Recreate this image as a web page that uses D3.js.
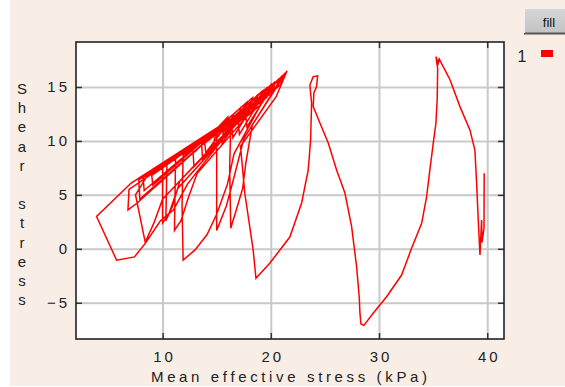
<!DOCTYPE html>
<html>
<head>
<meta charset="utf-8">
<script src="https://cdn.jsdelivr.net/npm/d3@7"></script>
<style>
  html, body { margin: 0; padding: 0; background: #ffffff; }
  svg { display: block; }
  text { font-family: "Liberation Sans", Arial, sans-serif; }
</style>
</head>
<body>
<svg id="chart" width="565" height="387"></svg>
<script>
// Cyclic stress path: mean effective stress p' (kPa) against shear stress q.
// Early cycles run back and forth inside the narrow band under the failure line.
const cyclicP = [13.0, 16.0, 15.8, 13.9, 14.0, 16.6, 16.4, 14.8, 14.7, 17.4, 17.2, 15.6, 15.5, 18.0,
  17.8, 16.4, 16.5, 18.6, 18.4, 17.0, 17.1, 19.2, 19.0, 17.7, 17.8, 19.8,
  17.2, 17.1, 9.0, 9.1, 17.8, 17.7, 8.2, 8.3, 18.3, 18.1, 7.1, 3.9, 5.75, 7.4,
  8.4, 9.8, 11.0, 12.3, 18.8, 18.6, 6.9, 6.8, 7.6, 19.2, 19.0, 7.8, 7.9, 19.6, 19.4, 8.6, 7.5,
  8.4, 9.2, 10.0, 20.0, 19.8, 10.0, 10.0, 10.6, 11.4, 20.4, 20.2, 10.4, 10.3, 10.9, 11.6, 20.8,
  20.5, 11.2, 11.1, 11.7, 12.4, 13.2, 21.1, 20.7, 11.9, 11.8, 11.9, 13.0, 14.1, 15.0, 16.0, 16.6,
  19.9, 19.6, 12.8, 12.9, 19.4, 19.1, 13.6, 13.7, 20.2, 19.9, 15.0, 15.0, 15.9, 16.7, 17.5, 21.3,
  20.9, 16.3, 16.2, 16.3, 16.9, 17.4, 17.7, 18.3, 21.5, 20.5, 17.2, 17.6, 18.37, 18.63];
const cyclicQ = [9.0, 12.2, 11.3, 9.8, 8.9, 12.4, 11.6, 10.3, 9.2, 12.9, 12.1, 10.8, 9.8, 13.3,
  12.5, 11.3, 10.3, 13.7, 12.9, 11.7, 10.6, 14.1, 13.3, 12.2, 11.3, 14.5,
  13.1, 12.5, 6.8, 5.9, 13.6, 12.9, 6.6, 5.4, 14.0, 13.2, 6.1, 3.0, -1.05, -0.75,
  0.5, 2.6, 3.6, 6.0, 14.3, 13.5, 5.5, 3.6, 4.2, 14.6, 13.8, 6.4, 4.6, 14.9, 14.1, 6.8, 5.0,
  0.6, 2.4, 4.6, 15.2, 14.4, 7.6, 2.4, 3.3, 5.6, 15.5, 14.7, 7.8, 2.6, 3.9, 6.3, 15.8,
  15.0, 8.4, 1.7, 2.6, 4.8, 7.0, 16.1, 15.2, 8.7, 4.0, -1.05, -0.1, 1.3, 3.2, 6.0, 8.8,
  14.9, 14.0, 9.3, 7.6, 14.5, 13.6, 9.8, 8.3, 15.2, 14.3, 10.9, 1.7, 4.0, 7.0, 10.2, 16.3,
  15.2, 11.5, 7.5, 1.9, 3.9, 5.6, 8.0, 11.5, 16.5, 14.1, 9.5, 5.15, -0.1, -2.74];

// Second large cycle
const loop2P = [19.92, 21.76, 22.85, 23.46, 23.68, 23.77, 23.61, 23.92, 24.33, 24.23, 23.98, 23.92,
  24.54, 25.31, 26.08, 26.85, 27.47, 27.93, 28.17, 28.24, 28.33, 28.6];
const loop2Q = [-1.32, 1.09, 4.25, 7.31, 10.09, 13.52, 15.18, 15.96, 16.02, 15.03, 14.45, 13.18,
  11.66, 9.81, 7.31, 5.17, 2.05, -1.66, -4.44, -5.96, -6.97, -7.1];

// Third large cycle and the end of the record
const loop3P = [29.46, 30.70, 32.09, 33.01, 33.94, 34.40, 34.70, 35.01, 35.26, 35.38, 35.42, 35.26,
  35.47, 35.56, 36.56, 37.48, 38.40, 38.86, 39.02, 39.17, 39.33, 39.48, 39.52, 39.70, 39.72];
const loop3Q = [-5.98, -4.44, -2.43, 0.05, 2.36, 4.83, 7.31, 9.78, 11.64, 13.95, 16.74, 17.81,
  17.2, 17.6, 15.67, 13.18, 11.02, 9.16, 6.07, 2.67, -0.57, 2.67, 0.6, 1.9, 7.0];

const xTicks = [10, 20, 30, 40];
const yTicks = [-5, 0, 5, 10, 15];
const xTitle = "Mean effective stress (kPa)";
const yTitle = "Shear stress";
const seriesName = "1";
const buttonLabel = "fill";

const W = 565, H = 387;
const box = { left: 76, top: 42, right: 504, bottom: 339 };

const svg = d3.select("#chart");

// panel background
svg.append("rect").attr("x", 10).attr("y", 0).attr("width", W - 10).attr("height", 386)
  .attr("fill", "#f9eee5");
svg.append("rect").attr("x", box.left).attr("y", box.top)
  .attr("width", box.right - box.left).attr("height", box.bottom - box.top).attr("fill", "#ffffff");

const x = d3.scaleLinear().domain([2.0, 41.55]).range([box.left, box.right]);
const y = d3.scaleLinear().domain([-8.36, 19.17]).range([box.bottom, box.top]);

// grid lines
const gridX = svg.append("g").attr("transform", `translate(0,${box.bottom})`)
  .call(d3.axisBottom(x).tickValues(xTicks).tickSize(-(box.bottom - box.top)).tickFormat(""));
const gridY = svg.append("g").attr("transform", `translate(${box.left},0)`)
  .call(d3.axisLeft(y).tickValues(yTicks).tickSize(-(box.right - box.left)).tickFormat(""));
[gridX, gridY].forEach(g => {
  g.select(".domain").remove();
  g.selectAll(".tick line").attr("stroke", "#c9c9c9").attr("stroke-width", 2);
});

// stress path
const pts = [];
[[cyclicP, cyclicQ], [loop2P, loop2Q], [loop3P, loop3Q]].forEach(([ps, qs]) => {
  ps.forEach((p, i) => pts.push([p, qs[i]]));
});
const line = d3.line().x(d => x(d[0])).y(d => y(d[1]));
svg.append("path").datum(pts).attr("d", line)
  .attr("fill", "none").attr("stroke", "#ff0000").attr("stroke-width", 1.5)
  .attr("stroke-linejoin", "miter");

// inward tick marks on all four sides, labels bottom and left
const tickLen = 6;
const axB = svg.append("g").attr("transform", `translate(0,${box.bottom})`)
  .call(d3.axisBottom(x).tickValues(xTicks).tickSize(-tickLen).tickPadding(12.5));
const axT = svg.append("g").attr("transform", `translate(0,${box.top})`)
  .call(d3.axisTop(x).tickValues(xTicks).tickSize(-tickLen).tickFormat(""));
const axL = svg.append("g").attr("transform", `translate(${box.left},0)`)
  .call(d3.axisLeft(y).tickValues(yTicks).tickSize(-tickLen).tickPadding(6));
const axR = svg.append("g").attr("transform", `translate(${box.right},0)`)
  .call(d3.axisRight(y).tickValues(yTicks).tickSize(-tickLen).tickFormat(""));
[axB, axT, axL, axR].forEach(g => {
  g.select(".domain").remove();
  g.selectAll(".tick line").attr("stroke", "#333333").attr("stroke-width", 1.5);
  g.selectAll(".tick text").attr("fill", "#222222")
    .style("font-size", "15px").style("letter-spacing", "3px");
});
axB.selectAll(".tick text").attr("dx", "1.5px");

// frame
svg.append("rect").attr("x", box.left).attr("y", box.top)
  .attr("width", box.right - box.left).attr("height", box.bottom - box.top)
  .attr("fill", "none").attr("stroke", "#222222").attr("stroke-width", 1.6);

// x title
svg.append("text").attr("x", 151).attr("y", 381.5)
  .attr("textLength", 276).attr("lengthAdjust", "spacing")
  .style("font-size", "15px").attr("fill", "#222222").text(xTitle);

// y title, one letter per row
const yChars = Array.from(yTitle);
svg.append("g").selectAll("text").data(yChars).join("text")
  .attr("x", 22).attr("y", (d, i) => 94 + i * 19.2)
  .attr("text-anchor", "middle").style("font-size", "15px").attr("fill", "#222222")
  .text(d => d);

// legend entry
svg.append("text").attr("x", 522).attr("y", 61.5).attr("text-anchor", "middle")
  .style("font-size", "16px").attr("fill", "#222222").text(seriesName);
svg.append("rect").attr("x", 541).attr("y", 50).attr("width", 12).attr("height", 7).attr("fill", "#ff0000");

// fill button
const defs = svg.append("defs");
const grad = defs.append("linearGradient").attr("id", "btn").attr("x1", 0).attr("y1", 0).attr("x2", 0).attr("y2", 1);
grad.append("stop").attr("offset", "0%").attr("stop-color", "#d6d6d6");
grad.append("stop").attr("offset", "100%").attr("stop-color", "#c2c2c2");
svg.append("rect").attr("x", 524).attr("y", 9).attr("width", 45).attr("height", 25).attr("fill", "url(#btn)");
svg.append("line").attr("x1", 524).attr("x2", 565).attr("y1", 33.5).attr("y2", 33.5)
  .attr("stroke", "#555555").attr("stroke-width", 2);
svg.append("line").attr("x1", 524.5).attr("x2", 524.5).attr("y1", 9).attr("y2", 33)
  .attr("stroke", "#eeeeee").attr("stroke-width", 1);
svg.append("text").attr("x", 549).attr("y", 27).attr("text-anchor", "middle")
  .style("font-size", "13px").attr("fill", "#111111").text(buttonLabel);
</script>
</body>
</html>
